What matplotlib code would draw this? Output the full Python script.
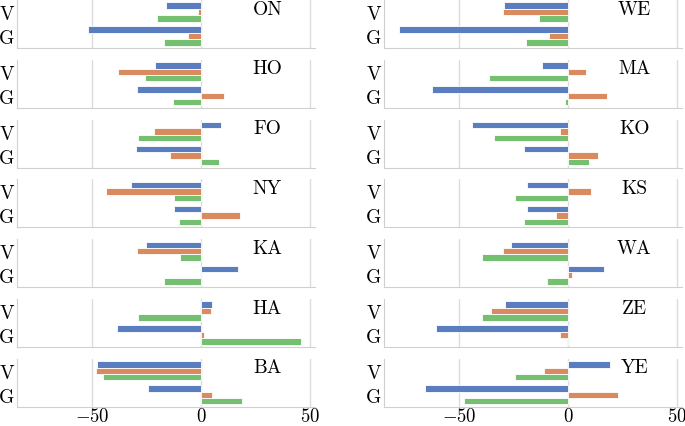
import numpy as np
import matplotlib.pyplot as plt
import seaborn as sns

plt.rcParams['font.family'] = 'cmr10'
plt.rcParams['mathtext.fontset'] = 'cm'
plt.rcParams['axes.formatter.use_mathtext'] = True
plt.rcParams['font.size'] = 14

# panels, left column then right column
left_names = ['ON', 'HO', 'FO', 'NY', 'KA', 'HA', 'BA']
right_names = ['WE', 'MA', 'KO', 'KS', 'WA', 'ZE', 'YE']
categories = ['V', 'G']

# values per panel: [V, G] for each of the three series
blue = {
    'ON': [-16.1, -52.0], 'HO': [-21.3, -29.5], 'FO': [9.2, -29.8], 'NY': [-32.0, -12.2],
    'KA': [-25.4, 17.0], 'HA': [5.0, -38.5], 'BA': [-47.7, -24.2],
    'WE': [-29.5, -77.7], 'MA': [-11.8, -62.5], 'KO': [-43.9, -20.2], 'KS': [-18.7, -18.8],
    'WA': [-26.0, 16.4], 'ZE': [-28.9, -60.6], 'YE': [19.1, -65.4],
}
orange = {
    'ON': [-1.4, -5.8], 'HO': [-38.0, 10.7], 'FO': [-21.6, -14.4], 'NY': [-43.6, 18.0],
    'KA': [-29.2, 0.0], 'HA': [4.6, 1.4], 'BA': [-48.2, 5.0],
    'WE': [-30.0, -8.9], 'MA': [8.4, 18.0], 'KO': [-3.8, 13.8], 'KS': [10.4, -5.7],
    'WA': [-29.7, 1.8], 'ZE': [-35.2, -3.8], 'YE': [-10.9, 23.1],
}
green = {
    'ON': [-20.2, -17.0], 'HO': [-25.8, -13.0], 'FO': [-28.7, 8.1], 'NY': [-12.5, -10.2],
    'KA': [-9.5, -17.1], 'HA': [-28.7, 46.0], 'BA': [-44.8, 18.7],
    'WE': [-13.5, -19.4], 'MA': [-36.2, -1.5], 'KO': [-34.1, 9.6], 'KS': [-24.2, -20.3],
    'WA': [-39.6, -9.5], 'ZE': [-39.6, -0.6], 'YE': [-24.2, -47.9],
}

colors = [sns.desaturate(c, 0.75) for c in sns.color_palette('muted', 3)]

W, H = 685, 427
fig = plt.figure(figsize=(W / 100, H / 100), dpi=100)

col_left = [17, 384]
ax_w = 298
ax_h = 48
bottoms = [49 + 59.8 * k for k in range(7)]

y = np.arange(len(categories))
bw = 0.8 / 3
for col, names in enumerate([left_names, right_names]):
    for row, name in enumerate(names):
        rect = [col_left[col] / W, 1 - bottoms[row] / H, ax_w / W, ax_h / H]
        ax = fig.add_axes(rect)
        for i, series in enumerate([blue, orange, green]):
            ax.barh(y + (i - 1) * bw, series[name], height=bw, color=colors[i],
                    edgecolor='white', linewidth=0.6, zorder=2)
        ax.set_xlim(-84.4, 52.3)
        ax.set_ylim(1.5, -0.5)
        ax.set_xticks([-50, 0, 50])
        ax.set_yticks(y)
        ax.set_yticklabels(categories)
        ax.grid(axis='x', color='#dcdcdc', linewidth=1, zorder=0)
        ax.tick_params(axis='y', length=0, pad=2)
        ax.tick_params(axis='x', length=0, pad=0, labelsize=13.5)
        for s in ['top', 'right']:
            ax.spines[s].set_visible(False)
        for s in ['left', 'bottom']:
            ax.spines[s].set_color('#d0d0d0')
        if row < 6:
            ax.set_xticklabels([])
        ax.text(0.84, 0.82, name, transform=ax.transAxes, ha='center', va='center')

fig.savefig('out.png', dpi=100)
